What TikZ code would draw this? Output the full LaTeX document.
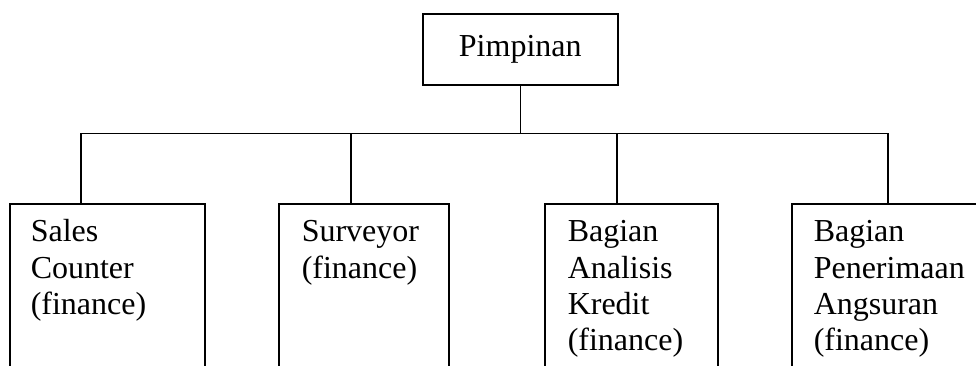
\documentclass[tikz,border=0pt]{standalone}
\usepackage{fontspec}
\setmainfont{Liberation Serif}
\usetikzlibrary{calc}

\begin{document}
\begin{tikzpicture}[x=1pt, y=-1pt, line width=1.5pt,
		unitbox/.style={draw, inner sep=0pt, anchor=north west},
		unittext/.style={anchor=north west, align=left, inner sep=0pt, font=\fontsize{32}{36.3}\selectfont}]
		\useasboundingbox (0,0) rectangle (976,365);
		\clip (0,0) rectangle (976,365);
		\node[unitbox, minimum width=195pt, minimum height=71pt, font=\fontsize{32}{36.3}\selectfont] (boss) at (422,13) {Pimpinan};
		\node[unitbox, minimum width=195pt, minimum height=200pt] (sales) at (9,203) {};
		\node[unitbox, minimum width=170pt, minimum height=200pt] (survey) at (278,203) {};
		\node[unitbox, minimum width=173pt, minimum height=200pt] (kredit) at (544,203) {};
		\node[unitbox, minimum width=209pt, minimum height=200pt] (angsuran) at (791,203) {};
		\node[unittext] (salestxt) at ($(sales.north west)+(21,12.6)$) {\strut Sales\\Counter\\(finance)};
		\node[unittext] (surveytxt) at ($(survey.north west)+(23,12.6)$) {\strut Surveyor\\(finance)};
		\node[unittext] (kredittxt) at ($(kredit.north west)+(23,12.6)$) {\strut Bagian\\Analisis\\Kredit\\(finance)};
		\node[unittext] (angsurantxt) at ($(angsuran.north west)+(22,12.6)$) {\strut Bagian\\Penerimaan\\Angsuran\\(finance)};
%		lines
		\draw (boss.south) -- ++(0,48) coordinate (hub);
		\coordinate (d1) at ($(sales.north west)+(72,0)$);
		\coordinate (d2) at ($(survey.north west)+(73,0)$);
		\coordinate (d3) at ($(kredit.north west)+(73,0)$);
		\coordinate (d4) at ($(angsuran.north west)+(97,0)$);
		\draw (d1) |- (hub) -| (d4);
		\draw (d2) -- (d2 |- hub);
		\draw (d3) -- (d3 |- hub);
	\end{tikzpicture}
\end{document}
